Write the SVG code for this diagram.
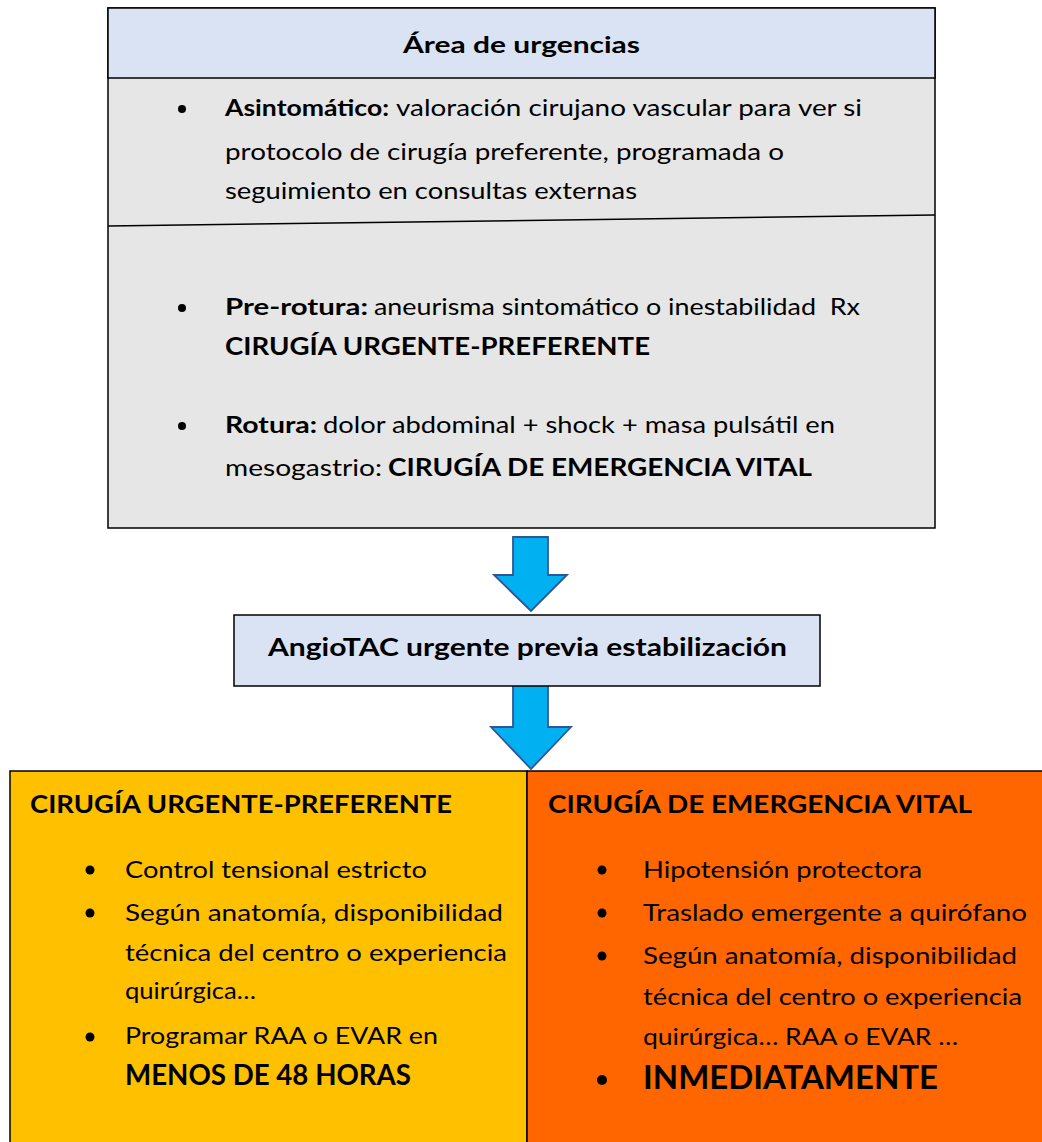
<svg xmlns="http://www.w3.org/2000/svg" width="1042" height="1142" viewBox="0 0 1042 1142">
<style>
text{font-family:Lato,"Open Sans","Liberation Sans",sans-serif;fill:#000}
.b{font-weight:bold}
.box{stroke:#000;stroke-width:1.5}
.arrow{fill:#00B0F0;stroke:#2F5597;stroke-width:1.8;stroke-linejoin:miter}
.t{font-size:22.5px}
.tb{font-size:25px;font-weight:bold}
.m{font-size:23.5px}
.h{font-size:25px;font-weight:bold}
</style>
<rect width="1042" height="1142" fill="#fff"/>
<g id="urgencias">
<rect x="108" y="8" width="827" height="520" fill="#E7E6E6" class="box"/>
<rect x="108" y="8" width="827" height="70" fill="#DAE3F3" class="box"/>
<line x1="108" y1="226" x2="935" y2="215" stroke="#000" stroke-width="1.5"/>
<text x="521.5" y="53" text-anchor="middle" class="b" font-size="23" textLength="237" lengthAdjust="spacingAndGlyphs">Área de urgencias</text>
<circle cx="182" cy="109" r="4"/>
<text x="225" y="116" class="t b" textLength="164" lengthAdjust="spacingAndGlyphs">Asintomático:</text>
<text x="396" y="116" class="t" textLength="466" lengthAdjust="spacingAndGlyphs">valoración cirujano vascular para ver si</text>
<text x="225" y="160" class="t" textLength="559" lengthAdjust="spacingAndGlyphs">protocolo de cirugía preferente, programada o</text>
<text x="225" y="199" class="t" textLength="412" lengthAdjust="spacingAndGlyphs">seguimiento en consultas externas</text>
<circle cx="182" cy="308" r="4"/>
<text x="225" y="315" class="t b" textLength="143" lengthAdjust="spacingAndGlyphs">Pre-rotura:</text>
<text x="374" y="315" class="t" textLength="486" lengthAdjust="spacingAndGlyphs" xml:space="preserve">aneurisma sintomático o inestabilidad  Rx</text>
<text x="225" y="355" class="tb" textLength="425" lengthAdjust="spacingAndGlyphs">CIRUGÍA URGENTE-PREFERENTE</text>
<circle cx="182" cy="426" r="4"/>
<text x="225" y="433" class="t b" textLength="92" lengthAdjust="spacingAndGlyphs">Rotura:</text>
<text x="323" y="433" class="t" textLength="512" lengthAdjust="spacingAndGlyphs">dolor abdominal + shock + masa pulsátil en</text>
<text x="225" y="476" class="t" textLength="157" lengthAdjust="spacingAndGlyphs">mesogastrio:</text>
<text x="388" y="476" class="tb" textLength="424" lengthAdjust="spacingAndGlyphs">CIRUGÍA DE EMERGENCIA VITAL</text>
</g>
<g id="connectors">
<polygon class="arrow" points="513,537 548,537 548,575 567,575 531,611 494,575 513,575"/>
<polygon class="arrow" points="513,684 548,684 548,727 571,727 531,769 491,727 513,727"/>
</g>
<g id="angiotac">
<rect x="234" y="615" width="586" height="71" fill="#DAE3F3" class="box"/>
<text x="527.5" y="656" text-anchor="middle" class="b" font-size="24.5" textLength="519" lengthAdjust="spacingAndGlyphs">AngioTAC urgente previa estabilización</text>
</g>
<g id="urgente-preferente">
<rect x="10" y="771" width="517" height="380" fill="#FFC000" class="box"/>
<text x="30" y="813" class="h" textLength="422" lengthAdjust="spacingAndGlyphs">CIRUGÍA URGENTE-PREFERENTE</text>
<circle cx="90" cy="870" r="4.5"/>
<text x="125" y="878" class="m" textLength="302" lengthAdjust="spacingAndGlyphs">Control tensional estricto</text>
<circle cx="90" cy="913" r="4.5"/>
<text x="125" y="921" class="m" textLength="378" lengthAdjust="spacingAndGlyphs">Según anatomía, disponibilidad</text>
<text x="125" y="961" class="m" textLength="382" lengthAdjust="spacingAndGlyphs">técnica del centro o experiencia</text>
<text x="125" y="999" class="m" textLength="131" lengthAdjust="spacingAndGlyphs">quirúrgica…</text>
<circle cx="90" cy="1037" r="4.5"/>
<text x="125" y="1044" class="m" textLength="313" lengthAdjust="spacingAndGlyphs">Programar RAA o EVAR en</text>
<text x="125" y="1085" class="b" font-size="28" textLength="286" lengthAdjust="spacingAndGlyphs">MENOS DE 48 HORAS</text>
</g>
<g id="emergencia-vital">
<rect x="527" y="771" width="520" height="380" fill="#FF6600" class="box"/>
<text x="548" y="813" class="h" textLength="424" lengthAdjust="spacingAndGlyphs">CIRUGÍA DE EMERGENCIA VITAL</text>
<circle cx="602" cy="870" r="4.5"/>
<text x="643" y="878" class="m" textLength="279" lengthAdjust="spacingAndGlyphs">Hipotensión protectora</text>
<circle cx="602" cy="913" r="4.5"/>
<text x="643" y="921" class="m" textLength="384" lengthAdjust="spacingAndGlyphs">Traslado emergente a quirófano</text>
<circle cx="602" cy="956" r="4.5"/>
<text x="643" y="964" class="m" textLength="374" lengthAdjust="spacingAndGlyphs">Según anatomía, disponibilidad</text>
<text x="643" y="1005" class="m" textLength="379" lengthAdjust="spacingAndGlyphs">técnica del centro o experiencia</text>
<text x="643" y="1045" class="m" textLength="315" lengthAdjust="spacingAndGlyphs">quirúrgica… RAA o EVAR …</text>
<circle cx="602" cy="1080" r="5"/>
<text x="643" y="1089" class="b" font-size="32" textLength="295" lengthAdjust="spacingAndGlyphs">INMEDIATAMENTE</text>
</g>
</svg>
